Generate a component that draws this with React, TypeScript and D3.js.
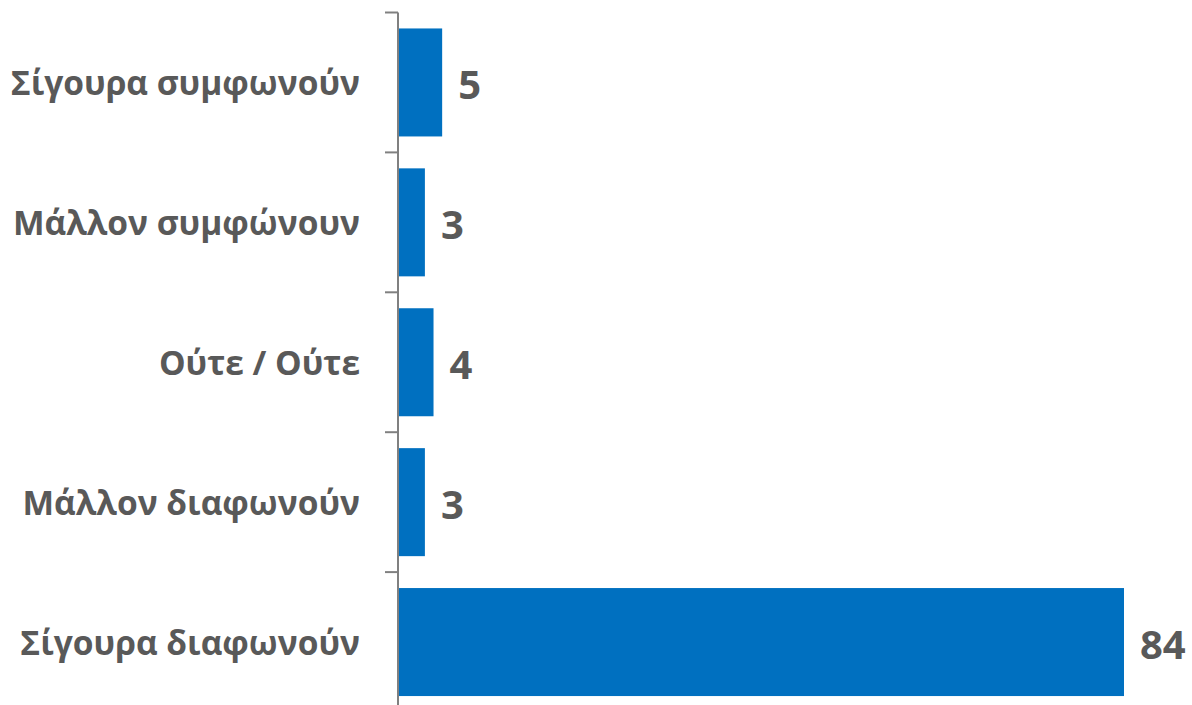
import React from "react";
import * as d3 from "d3";

const categories = [
  "Σίγουρα συμφωνούν",
  "Μάλλον συμφώνουν",
  "Ούτε / Ούτε",
  "Μάλλον διαφωνούν",
  "Σίγουρα διαφωνούν",
];
const values = [5, 3, 4, 3, 84];

const W = 1192;
const H = 705;
const axisX = 398;

export default function App() {
  const y = d3
    .scaleBand<string>()
    .domain(categories)
    .range([12.5, 712])
    .paddingInner(0.228)
    .paddingOuter(0.114);
  const x = d3.scaleLinear().domain([0, 84]).range([axisX + 1, 1124]);
  const step = y.step();
  const grey = "#595959";
  const font = "'Open Sans', sans-serif";

  return (
    <svg
      width={W}
      height={H}
      style={{ position: "absolute", left: 0, top: 0, background: "#fff" }}
    >
      {categories.map((c, i) => {
        const yb = y(c)!;
        const bandStart = 12.5 + i * step;
        return (
          <g key={c}>
            <rect
              x={x(0)}
              y={yb}
              width={x(values[i]) - x(0)}
              height={y.bandwidth()}
              fill="#0070C0"
            />
            <line
              x1={axisX - 13}
              x2={axisX}
              y1={bandStart}
              y2={bandStart}
              stroke="#808080"
              strokeWidth={2}
            />
            <text
              x={360}
              y={yb + y.bandwidth() / 2}
              textAnchor="end"
              dominantBaseline="central"
              fontFamily={font}
              fontWeight="bold"
              fontSize={33.5}
              fill={grey}
            >
              {c}
            </text>
            <text
              x={x(values[i]) + 16}
              y={yb + y.bandwidth() / 2 + 1}
              textAnchor="start"
              dominantBaseline="central"
              fontFamily={font}
              fontWeight="bold"
              fontSize={40}
              fill={grey}
            >
              {values[i]}
            </text>
          </g>
        );
      })}
      <line
        x1={axisX}
        x2={axisX}
        y1={12.5}
        y2={H}
        stroke="#808080"
        strokeWidth={2}
      />
    </svg>
  );
}
